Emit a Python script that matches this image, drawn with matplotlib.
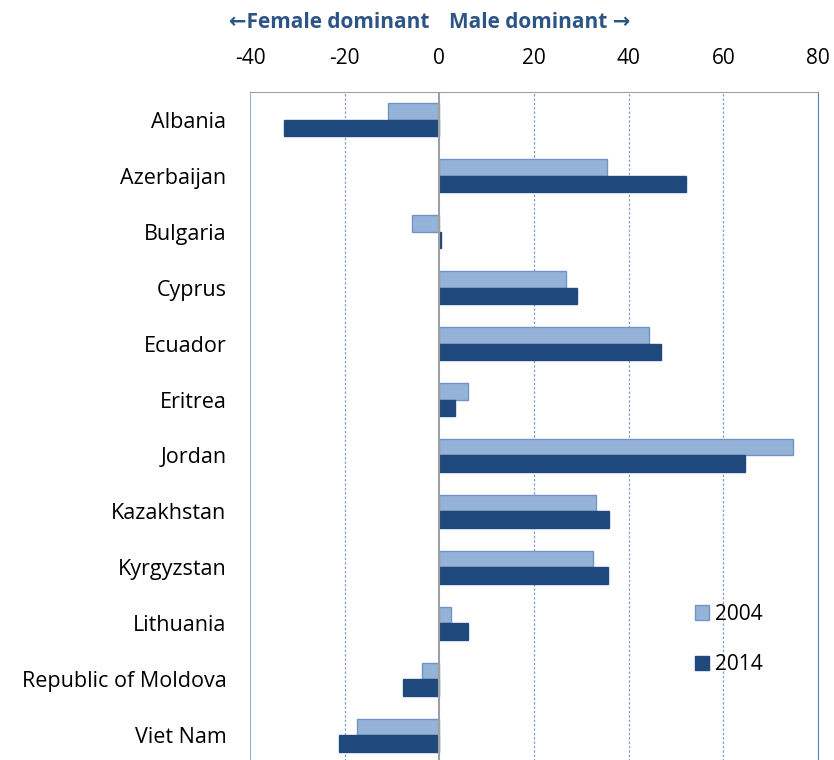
import numpy as np
import matplotlib.pyplot as plt

plt.rcParams["font.family"] = ["Open Sans", "DejaVu Sans"]
plt.rcParams["axes.unicode_minus"] = False

countries = ["Albania", "Azerbaijan", "Bulgaria", "Cyprus", "Ecuador", "Eritrea",
             "Jordan", "Kazakhstan", "Kyrgyzstan", "Lithuania",
             "Republic of Moldova", "Viet Nam"]
v2004 = [-10.8, 35.4, -5.7, 26.8, 44.3, 6.1, 74.7, 33.1, 32.5, 2.5, -3.6, -17.5]
v2014 = [-32.9, 52.1, 0.4, 29.1, 46.8, 3.4, 64.6, 35.9, 35.7, 6.1, -7.6, -21.1]

light = "#95B3D7"
dark = "#1F497D"

fig = plt.figure(figsize=(8.34, 7.6), dpi=100)
ax = fig.add_axes([250 / 834, -3 / 760, 568 / 834, 671 / 760])

y = np.arange(len(countries))
h = 0.295
ax.barh(y - h / 2, v2004, height=h, color=light, edgecolor="#6F95C8", linewidth=1, label="2004", zorder=3)
ax.barh(y + h / 2, v2014, height=h, color=dark, edgecolor=dark, linewidth=1, label="2014", zorder=3)

ax.set_xlim(-40, 80)
ax.set_ylim(len(countries) - 0.5, -0.5)
ax.set_yticks(y)
ax.set_yticklabels(countries, fontsize=15.5)
ax.set_xticks(range(-40, 81, 20))
ax.xaxis.tick_top()
ax.tick_params(axis="x", labelsize=15, length=0, pad=16.5)
ax.tick_params(axis="y", length=0, pad=17)

for x in [-20, 20, 40, 60]:
    ax.axvline(x, color="#7FA3D3", linestyle=(0, (2, 1.5)), linewidth=0.9, zorder=1)
ax.axvline(0, color="#A0A0A0", linewidth=1.5, zorder=4)

ax.spines["top"].set_color("#A0A0A0")
ax.spines["left"].set_color("#95B3D7")
ax.spines["right"].set_color("#4F81BD")
ax.spines["bottom"].set_visible(False)

ax.text(-2, 1.104, "\u2190Female dominant", transform=ax.get_xaxis_transform(),
        ha="right", va="center", fontsize=15, fontweight="bold", color="#2C5585")
ax.text(2, 1.104, "Male dominant \u2192", transform=ax.get_xaxis_transform(),
        ha="left", va="center", fontsize=15, fontweight="bold", color="#2C5585")

leg = ax.legend(loc="upper left", bbox_to_anchor=(0.75, 0.265), frameon=False,
                fontsize=15, handlelength=0.7, handleheight=0.7, labelspacing=1.4,
                handletextpad=0.25)

fig.savefig("out.png", dpi=100)
